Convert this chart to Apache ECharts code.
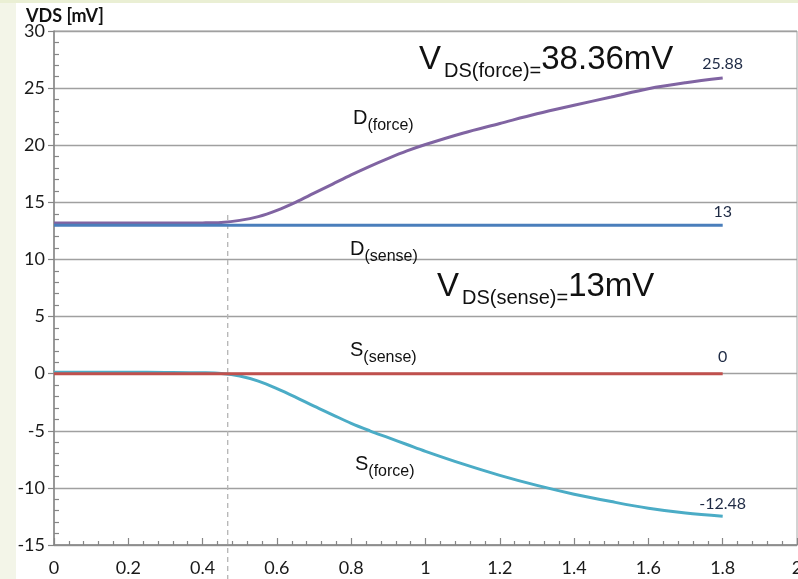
<!DOCTYPE html>
<html lang="en">
<head>
    <meta charset="UTF-8">
    <title>VDS</title>
    <script src="https://cdn.jsdelivr.net/npm/echarts@6/dist/echarts.min.js"></script>
    <style>
        html, body { margin: 0; padding: 0; }
    </style>
</head>
<body>
    <div id="main" style="width: 798px; height: 579px"></div>
    <script>
        var myEcharts = echarts.init(document.getElementById('main'))

        // x values (shared by the two "force" curves)
        var xForce = [0, 0.1, 0.2, 0.3, 0.4, 0.45, 0.5, 0.55, 0.6, 0.65, 0.7, 0.75, 0.8, 0.85, 0.9, 0.95, 1.0, 1.1, 1.2, 1.3, 1.4, 1.5, 1.6, 1.7, 1.8]
        var dForce = [13.18, 13.18, 13.18, 13.19, 13.2, 13.24, 13.42, 13.75, 14.3, 15.0, 15.8, 16.6, 17.4, 18.15, 18.85, 19.5, 20.06, 21.05, 21.9, 22.75, 23.5, 24.22, 24.95, 25.47, 25.88]
        var sForce = [0.12, 0.12, 0.12, 0.11, 0.08, 0.02, -0.2, -0.65, -1.3, -2.05, -2.85, -3.6, -4.35, -5.0, -5.6, -6.2, -6.8, -7.9, -8.9, -9.78, -10.55, -11.2, -11.78, -12.2, -12.48]

        // sense lines are flat
        var xSense = [0, 1.8]
        var dSense = [13, 13]
        var sSense = [0, 0]

        // dashed marker where the force curves split off
        var xDash = [0.4676, 0.4676]
        var yDash = [13.9, -18]

        var xMin = 0, xMax = 2, xStep = 0.2
        var yMin = -15, yMax = 30, yStep = 5

        var lblFont = 'Lato'
        var txtFont = 'Liberation Sans'

        function pairs(xs, ys) {
            return xs.map(function (x, i) { return [x, ys[i]] })
        }

        function endMark(xs, ys, dist) {
            var n = xs.length - 1
            return {
                symbol: 'circle',
                symbolSize: 1,
                itemStyle: { color: 'rgba(0,0,0,0)' },
                label: {
                    show: true,
                    position: 'top',
                    distance: dist,
                    formatter: '{c}',
                    color: '#1e2a44',
                    fontFamily: lblFont,
                    fontSize: 16
                },
                data: [{ coord: [xs[n], ys[n]], value: ys[n] }]
            }
        }

        // name with a subscript, e.g. D(force)
        function subText(left, top, main, sub) {
            return {
                type: 'text',
                left: left,
                top: top,
                z: 100,
                style: {
                    text: '{m|' + main + '}{s|' + sub + '}',
                    fill: '#111',
                    rich: {
                        m: { fontSize: 20, lineHeight: 40, fontFamily: txtFont, color: '#111' },
                        s: { fontSize: 16, lineHeight: 16, fontFamily: txtFont, color: '#111', padding: [15, 0, 0, 0] }
                    }
                }
            }
        }

        function vdsText(left, top, sub, val) {
            return {
                type: 'text',
                left: left,
                top: top,
                z: 100,
                style: {
                    text: '{v|V}{s|' + sub + '}{m|' + val + '}',
                    fill: '#111',
                    rich: {
                        v: { fontSize: 33, lineHeight: 60, fontFamily: txtFont, color: '#111', padding: [0, 3, 0, 0] },
                        m: { fontSize: 33, lineHeight: 60, fontFamily: txtFont, color: '#111' },
                        s: { fontSize: 20, lineHeight: 20, fontFamily: txtFont, color: '#111', padding: [22, 0, 0, 0] }
                    }
                }
            }
        }

        var option = {
            animation: false,
            backgroundColor: '#ffffff',
            grid: {
                show: true,
                left: 54,
                top: 31,
                right: 1,
                bottom: 34,
                outerBoundsMode: 'none',
                containLabel: false,
                borderColor: '#a6a6a6',
                borderWidth: 1
            },
            xAxis: {
                type: 'value',
                min: xMin,
                max: xMax,
                interval: xStep,
                axisLine: { show: true, onZero: false, lineStyle: { color: '#868686', width: 1.5 } },
                axisTick: { show: true, inside: true, length: 7, lineStyle: { color: '#868686', width: 1.2 } },
                minorTick: { show: true, splitNumber: 5, length: 4, lineStyle: { color: '#868686', width: 1.2 } },
                splitLine: { show: false },
                axisLabel: { margin: 14, color: '#1a1a1a', fontFamily: lblFont, fontSize: 18, showMaxLabel: true, hideOverlap: false }
            },
            yAxis: [
                {
                    type: 'value',
                    min: yMin,
                    max: yMax,
                    interval: yStep,
                    axisLine: { show: true, onZero: false, lineStyle: { color: '#868686', width: 1.5 } },
                    axisTick: { show: true, length: 6, lineStyle: { color: '#868686', width: 1.2 } },
                    splitLine: { show: true, lineStyle: { color: '#a0a0a0', width: 1.3 } },
                    axisLabel: { margin: 9, color: '#1a1a1a', fontFamily: lblFont, fontSize: 18 }
                },
                {
                    // only for the small inside ticks
                    type: 'value',
                    min: yMin,
                    max: yMax,
                    interval: yStep,
                    position: 'left',
                    axisLine: { show: false, onZero: false },
                    axisTick: { show: false, inside: true },
                    minorTick: { show: true, splitNumber: 5, length: 5, lineStyle: { color: '#868686', width: 1.2 } },
                    splitLine: { show: false },
                    axisLabel: { show: false }
                }
            ],
            series: [
                {
                    name: 'D(force)',
                    type: 'line',
                    smooth: 0.35,
                    showSymbol: false,
                    lineStyle: { color: '#8064a2', width: 3 },
                    data: pairs(xForce, dForce),
                    markPoint: endMark(xForce, dForce, 6)
                },
                {
                    name: 'S(force)',
                    type: 'line',
                    smooth: 0.35,
                    showSymbol: false,
                    lineStyle: { color: '#4bacc6', width: 3 },
                    data: pairs(xForce, sForce),
                    markPoint: endMark(xForce, sForce, 4)
                },
                {
                    name: 'D(sense)',
                    type: 'line',
                    showSymbol: false,
                    lineStyle: { color: '#4a7ebb', width: 3 },
                    data: pairs(xSense, dSense),
                    markPoint: endMark(xSense, dSense, 5)
                },
                {
                    name: 'S(sense)',
                    type: 'line',
                    showSymbol: false,
                    lineStyle: { color: '#c0504d', width: 3 },
                    data: pairs(xSense, sSense),
                    markPoint: endMark(xSense, sSense, 8)
                },
                {
                    name: 'split',
                    type: 'line',
                    showSymbol: false,
                    clip: false,
                    silent: true,
                    z: 1,
                    lineStyle: { color: '#b4b4b4', width: 1.3, type: [5, 4] },
                    data: pairs(xDash, yDash)
                }
            ],
            graphic: [
                { type: 'rect', left: 0, top: 0, z: -10, shape: { width: 16, height: 579 }, style: { fill: '#f3f5e8' } },
                { type: 'rect', left: 0, top: 0, z: -10, shape: { width: 798, height: 3 }, style: { fill: '#eaefd4' } },
                {
                    type: 'text',
                    left: 26,
                    top: 7,
                    z: 100,
                    style: { text: 'VDS [mV]', fill: '#111', fontFamily: lblFont, fontWeight: 'bold', fontSize: 18 }
                },
                vdsText(419, 39, 'DS(force)=', '38.36mV'),
                vdsText(437, 266, 'DS(sense)=', '13mV'),
                subText(353, 103, 'D', '(force)'),
                subText(350, 234, 'D', '(sense)'),
                subText(350, 335, 'S', '(sense)'),
                subText(355, 449, 'S', '(force)')
            ]
        }

        myEcharts.setOption(option)
    </script>
</body>
</html>
